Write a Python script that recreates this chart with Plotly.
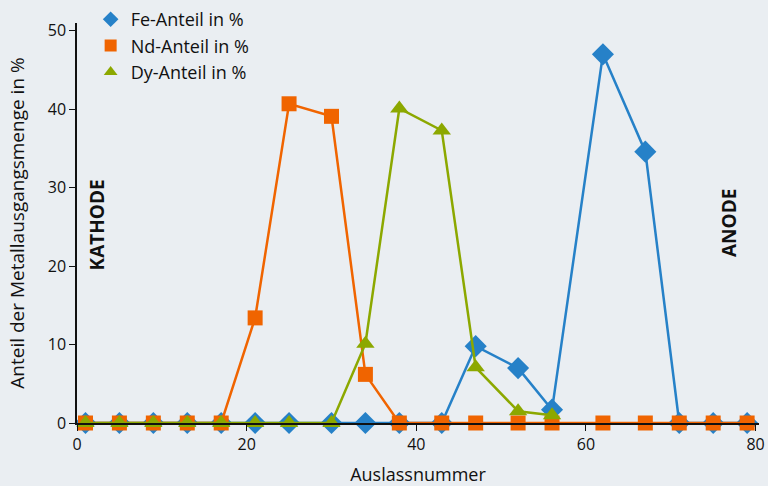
import plotly.graph_objects as go

# Auslassnummern und Anteile (in %)
fe_x = [1, 5, 9, 13, 17, 21, 25, 30, 34, 38, 43, 47, 52, 56, 62, 67, 71, 75, 79]
fe_y = [0, 0, 0, 0, 0, 0, 0, 0, 0, 0, 0, 9.8, 7.0, 1.7, 47.0, 34.6, 0, 0, 0]

nd_x = [1, 5, 9, 13, 17, 21, 25, 30, 34, 38, 43, 47, 52, 56, 62, 67, 71, 75, 79]
nd_y = [0, 0, 0, 0, 0, 13.4, 40.7, 39.1, 6.2, 0, 0, 0, 0, 0, 0, 0, 0, 0, 0]

dy_x = [1, 5, 9, 13, 17, 21, 25, 30, 34, 38, 43, 47, 52, 56]
dy_y = [0, 0, 0, 0, 0, 0, 0, 0, 10.1, 40.1, 37.3, 7.1, 1.5, 1.0]

names = ['Fe-Anteil in %', 'Nd-Anteil in %', 'Dy-Anteil in %']
colors = ['#2681c8', '#f06400', '#8ca800']
symbols = ['diamond', 'square', 'triangle-up']
sizes = [17, 15, 16]

bg = '#eaeef2'
font = 'Open Sans, Noto Sans, sans-serif'

fig = go.Figure()

series = [(fe_x, fe_y), (nd_x, nd_y), (dy_x, dy_y)]
for (xs, ys), name, col, sym, sz in zip(series, names, colors, symbols, sizes):
    fig.add_trace(go.Scatter(
        x=xs, y=ys, mode='lines+markers', name=name,
        line=dict(color=col, width=2.5),
        marker=dict(symbol=sym, size=sz, color=col),
        cliponaxis=False, showlegend=False
    ))

# legend entries show markers only
for name, col, sym, sz in zip(names, colors, symbols, sizes):
    fig.add_trace(go.Scatter(
        x=[None], y=[None], mode='markers', name=name,
        marker=dict(symbol=sym, size=sz + 5, color=col)
    ))

fig.add_annotation(text='<b>KATHODE</b>', x=0.03, y=0.495, xref='paper', yref='paper',
                   xanchor='center', yanchor='middle',
                   textangle=-90, showarrow=False, font=dict(size=19, color='#111'))
fig.add_annotation(text='<b>ANODE</b>', x=0.956, y=0.5, xref='paper', yref='paper',
                   xanchor='center', yanchor='middle',
                   textangle=-90, showarrow=False, font=dict(size=19, color='#111'))

fig.update_layout(
    width=768, height=486,
    paper_bgcolor=bg, plot_bgcolor=bg,
    font=dict(family=font, size=16, color='#111'),
    margin=dict(l=77, r=9, t=23, b=63, autoexpand=False),
    legend=dict(x=0.02, y=1.055, xanchor='left', yanchor='top',
                bgcolor='rgba(0,0,0,0)', font=dict(size=18),
                itemsizing='constant', tracegroupgap=0),
    xaxis=dict(range=[0, 80.4], tickvals=[0, 20, 40, 60, 80],
               showgrid=False, zeroline=False, showline=True, linecolor='#111',
               linewidth=1.5, ticks='outside', ticklen=6, tickcolor='#111',
               automargin=False,
               title=dict(text='Auslassnummer', standoff=18, font=dict(size=18))),
    yaxis=dict(range=[0, 51], tickvals=[0, 10, 20, 30, 40, 50],
               showgrid=False, zeroline=False, showline=True, linecolor='#111',
               linewidth=1.5, ticks='outside', ticklen=6, tickcolor='#111',
               automargin=False,
               title=dict(text='Anteil der Metallausgangsmenge in %', standoff=18,
                          font=dict(size=19))),
)

# drop the browser's default body margin so the figure fills the window
fig.write_html('out.html', config={'displayModeBar': False},
               post_script="document.body.style.margin='0';"
                           "document.body.style.background='%s';" % bg)
